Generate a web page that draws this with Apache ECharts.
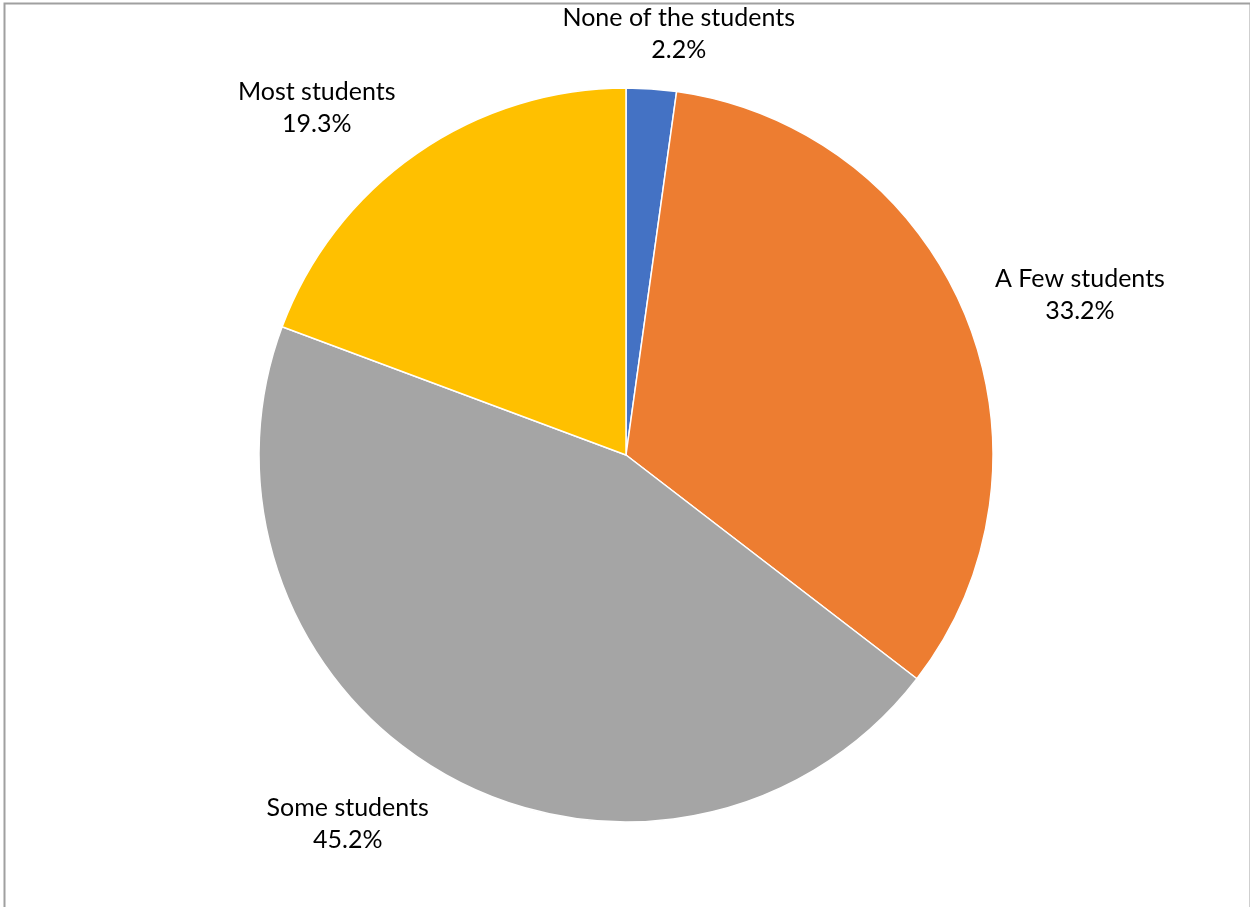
<!DOCTYPE html>
<html>
<head>
<meta charset="utf-8">
<script src="https://cdn.jsdelivr.net/npm/echarts@6/dist/echarts.min.js"></script>
<style>
  html, body { margin: 0; padding: 0; background: #fff; }
  #chart { width: 1250px; height: 907px; }
</style>
</head>
<body>
<div id="chart"></div>
<script>
// categories and shares (%), clockwise from 12 o'clock
const categories = ['None of the students', 'A Few students', 'Some students', 'Most students'];
const shares = [2.2, 33.2, 45.2, 19.3];
const sliceColors = ['#4472C4', '#ED7D31', '#A5A5A5', '#FFC000'];

const pieCenter = [626, 455];
const pieRadius = 367;
const labelGap = 23;
const labelPadX = 8;

// mid angle of each slice (radians, clockwise from 12 o'clock)
const total = shares.reduce((a, b) => a + b, 0);
let acc = 0;
const midAngles = shares.map(v => {
  const mid = (acc + v / 2) / total * Math.PI * 2;
  acc += v;
  return mid;
});

const myChart = echarts.init(document.getElementById('chart'));

// place labels like Excel's "outside end": box pushed off the rim along the mid angle
const placeLabel = (params) => {
  const a = midAngles[params.dataIndex];
  const ux = Math.sin(a);
  const uy = -Math.cos(a);
  const w = params.labelRect.width;
  const h = params.labelRect.height;
  const px = pieCenter[0] + (pieRadius + labelGap) * ux;
  const py = pieCenter[1] + (pieRadius + labelGap) * uy;
  const kx = Math.max(-1, Math.min(1, ux * 3));
  return {
    x: px + kx * (w / 2 + labelPadX),
    y: py + uy * h / 2,
    align: 'center',
    verticalAlign: 'middle',
  };
};

const option = {
  animation: false,
  backgroundColor: '#fff',
  graphic: [
    {
      // chart frame (bottom edge is cut off in the original)
      type: 'rect',
      left: 2,
      top: 1,
      shape: { width: 1246, height: 920 },
      style: { fill: 'none', stroke: '#a0a0a0', lineWidth: 2 },
      silent: true,
    },
  ],
  series: [
    {
      type: 'pie',
      center: pieCenter,
      radius: [0, pieRadius],
      startAngle: 90,
      clockwise: true,
      avoidLabelOverlap: false,
      itemStyle: {
        borderColor: '#fff',
        borderWidth: 1.5,
      },
      label: {
        show: true,
        position: 'outside',
        alignTo: 'none',
        formatter: p => `${p.name}\n${p.value.toFixed(1)}%`,
        fontFamily: 'Lato, "Open Sans", sans-serif',
        fontSize: 25,
        lineHeight: 32,
        color: '#000',
      },
      labelLine: {
        show: false,
        length: 20,
        length2: 0,
      },
      labelLayout: placeLabel,
      data: categories.map((name, i) => ({
        name,
        value: shares[i],
        itemStyle: { color: sliceColors[i] },
      })),
    },
  ],
};

myChart.setOption(option);
</script>
</body>
</html>
